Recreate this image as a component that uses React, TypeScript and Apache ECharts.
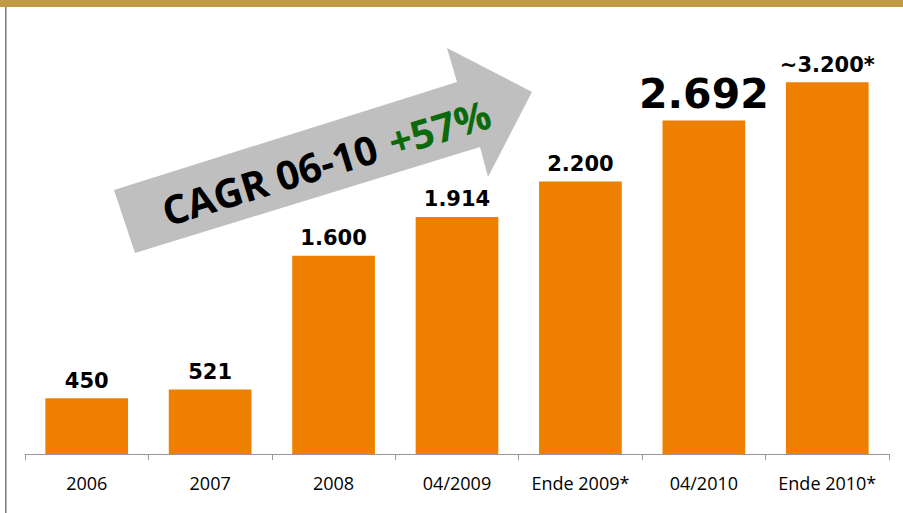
import React, { useEffect, useRef } from "react";
import * as echarts from "echarts";

const categories = ["2006", "2007", "2008", "04/2009", "Ende 2009*", "04/2010", "Ende 2010*"];
const values = [450, 521, 1600, 1914, 2200, 2692, 3000];
const valueLabels = ["450", "521", "1.600", "1.914", "2.200", "2.692", "~3.200*"];
const labelSizes = [21, 21, 21, 21, 21, 41, 21];
const arrowText = "CAGR 06-10";
const arrowGrowth = "+57%";

export default function App() {
  const ref = useRef<HTMLDivElement>(null);
  useEffect(() => {
    if (!ref.current) return;
    const chart = echarts.init(ref.current, null, { renderer: "svg" });
    const arrowPts = [
      [114, 190], [457, 82], [447, 48], [532, 92], [488, 177], [480, 147], [135, 253],
    ];
    chart.setOption({
      animation: false,
      backgroundColor: "#ffffff",
      grid: { left: 25, right: 14, top: 8, bottom: 59 },
      xAxis: {
        type: "category",
        data: categories,
        axisLine: { lineStyle: { color: "#999999", width: 1 } },
        axisTick: { show: true, length: 6, lineStyle: { color: "#999999" } },
        axisLabel: {
          color: "#000000",
          fontFamily: "Open Sans",
          fontSize: 18,
          fontWeight: 500,
          lineHeight: 20,
          margin: 19,
          interval: 0,
        },
      },
      yAxis: { type: "value", min: 0, max: 3600, show: false },
      series: [
        {
          type: "bar",
          barCategoryGap: "33%",
          itemStyle: { color: "#EE7F00" },
          data: values.map((v, i) => ({
            value: v,
            label: {
              show: true,
              position: "top",
              distance: i === 5 ? 6 : 7,
              formatter: valueLabels[i],
              fontFamily: "DejaVu Sans",
              fontWeight: "bold",
              fontSize: labelSizes[i],
              color: "#000000",
            },
          })),
        },
      ],
      graphic: [
        { type: "rect", shape: { x: 0, y: 0, width: 903, height: 7 }, style: { fill: "#C09A45" } },
        { type: "rect", shape: { x: 5, y: 7, width: 1.6, height: 506 }, style: { fill: "#808080" } },
        {
          type: "polygon",
          shape: { points: arrowPts },
          style: { fill: "#BFBFBF" },
        },
        {
          type: "text",
          x: 326,
          y: 162,
          rotation: (17 * Math.PI) / 180,
          style: {
            text: "{a|" + arrowText + "}{s| }{b|" + arrowGrowth + "}",
            align: "center",
            verticalAlign: "middle",
            rich: {
              a: { fontFamily: "Open Sans", fontWeight: "bold", fontSize: 40, fill: "#000000", color: "#000000" },
              s: { fontFamily: "Open Sans", fontSize: 52 },
              b: { fontFamily: "Open Sans", fontWeight: "bold", fontSize: 40, fill: "#0B6A0B", color: "#0B6A0B" },
            },
            fontFamily: "Open Sans",
            fontWeight: "bold",
            fontSize: 40,
          },
        },
      ],
    });
    return () => chart.dispose();
  }, []);
  return <div ref={ref} style={{ position: "fixed", left: 0, top: 0, width: 903, height: 513 }} />;
}
